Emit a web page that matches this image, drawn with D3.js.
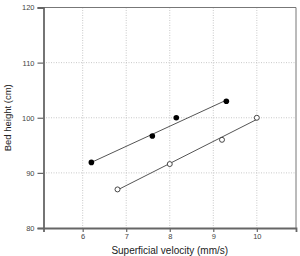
<!DOCTYPE html>
<html lang="en">
<head>
  <meta charset="utf-8">
  <title>Bed height vs superficial velocity</title>
  <style>
    body { margin: 0; background: #fff; }
    text { font-family: "Liberation Sans", Arial, sans-serif; }
  </style>
</head>
<body>
  <div id="chart-area"></div>
  <script src="https://cdn.jsdelivr.net/npm/d3@7/dist/d3.min.js"></script>
  <script>
    // data
    var filledX = [6.2, 7.6, 8.15, 9.3];
    var filledY = [91.9, 96.7, 100, 103];
    var openX = [6.8, 8.0, 9.2, 10.0];
    var openY = [87, 91.6, 96, 100];
    // fitted lines (end points)
    var filledFitX = [6.2, 9.3];
    var filledFitY = [91.9, 103.2];
    var openFitX = [6.8, 10.0];
    var openFitY = [86.9, 99.7];
    var xTicks = [6, 7, 8, 9, 10];
    var yTicks = [80, 90, 100, 110, 120];

    var svgWidth = 300, svgHeight = 256;
    var margin = { top: 7.5, left: 43.5, bottom: 28, right: 4 };
    var width = svgWidth - margin.left - margin.right;
    var height = svgHeight - margin.top - margin.bottom;

    var svg = d3.select("#chart-area").append("svg")
                .attr("width", svgWidth)
                .attr("height", svgHeight);

    var g = svg.append("g")
               .attr("transform", "translate(" + margin.left + "," + margin.top + ")");

    var x = d3.scaleLinear().domain([5.1, 10.9]).range([0, width]);
    var y = d3.scaleLinear().domain([80, 120]).range([height, 0]);

    // grid
    g.selectAll(".vgrid").data(xTicks).enter().append("line")
     .attr("x1", d => x(d)).attr("x2", d => x(d))
     .attr("y1", 0).attr("y2", height)
     .attr("stroke", "#bbb").attr("stroke-width", 0.8)
     .attr("stroke-dasharray", "1,1.5");
    g.selectAll(".hgrid").data(yTicks.slice(1, -1)).enter().append("line")
     .attr("x1", 0).attr("x2", width)
     .attr("y1", d => y(d)).attr("y2", d => y(d))
     .attr("stroke", "#bbb").attr("stroke-width", 0.8)
     .attr("stroke-dasharray", "1,1.5");

    // top / right frame
    g.append("path")
     .attr("d", "M0,0H" + width + "V" + height)
     .attr("fill", "none").attr("stroke", "#777").attr("stroke-width", 1);

    // axes
    var yAxis = g.append("g")
                 .call(d3.axisLeft(y).tickValues(yTicks).tickSize(6).tickPadding(3));
    var xAxis = g.append("g")
                 .attr("transform", "translate(0," + height + ")")
                 .call(d3.axisBottom(x).tickValues(xTicks).tickFormat(d3.format("d"))
                         .tickSize(4).tickPadding(2));
    [xAxis, yAxis].forEach(function(a) {
      a.select(".domain").attr("stroke", "#666").attr("stroke-width", 1.8);
      a.selectAll(".tick line").attr("stroke", "#666").attr("stroke-width", 1.2);
      a.selectAll("text").attr("fill", "#444").attr("font-size", "7.5px")
       .attr("font-family", "Liberation Sans, Arial, sans-serif");
    });

    // fit lines
    var line = d3.line().x(d => x(d[0])).y(d => y(d[1]));
    g.append("path").datum(d3.zip(filledFitX, filledFitY))
     .attr("d", line).attr("fill", "none").attr("stroke", "#555").attr("stroke-width", 1);
    g.append("path").datum(d3.zip(openFitX, openFitY))
     .attr("d", line).attr("fill", "none").attr("stroke", "#555").attr("stroke-width", 1);

    // points
    g.selectAll(".filled").data(d3.zip(filledX, filledY)).enter().append("circle")
     .attr("cx", d => x(d[0])).attr("cy", d => y(d[1])).attr("r", 2.8)
     .attr("fill", "#000");
    g.selectAll(".open").data(d3.zip(openX, openY)).enter().append("circle")
     .attr("cx", d => x(d[0])).attr("cy", d => y(d[1])).attr("r", 2.5)
     .attr("fill", "#fff").attr("stroke", "#333").attr("stroke-width", 0.9);

    // labels
    svg.append("text")
       .attr("x", margin.left + width / 2).attr("y", 254)
       .attr("text-anchor", "middle").attr("font-size", "10px").attr("fill", "#222")
       .text("Superficial velocity (mm/s)");
    svg.append("text")
       .attr("transform", "translate(11," + (margin.top + height / 2) + ") rotate(-90)")
       .attr("text-anchor", "middle").attr("font-size", "9.5px").attr("fill", "#222")
       .text("Bed height (cm)");
  </script>
</body>
</html>
